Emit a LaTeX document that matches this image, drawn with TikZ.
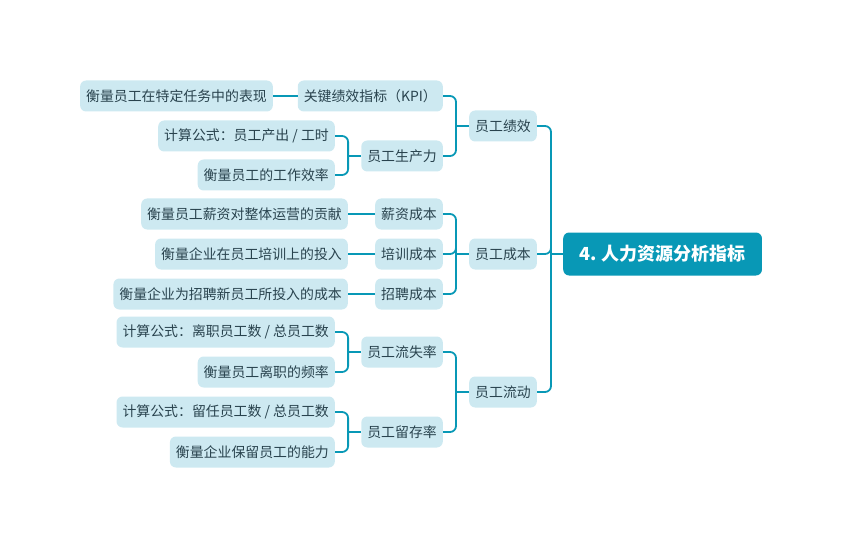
\documentclass[tikz,border=0pt]{standalone}
\usepackage{fontspec}
\setmainfont{Noto Sans CJK SC}
\usetikzlibrary{positioning}
\definecolor{mainteal}{HTML}{0898B6}
\definecolor{paleblue}{HTML}{CDE9F1}
\definecolor{inkgray}{HTML}{29434E}

\begin{document}
\begin{tikzpicture}[x=1pt, y=-1pt,
        topic/.style={rectangle, rounded corners=6pt, fill=mainteal, text=white, font=\fontsize{18}{21}\selectfont\bfseries, minimum height=43pt, inner xsep=16pt, anchor=west},
        sub/.style={rectangle, rounded corners=6pt, fill=paleblue, text=inkgray, font=\fontsize{13.9}{16}\selectfont, minimum height=31pt, inner xsep=6pt, anchor=east},
        link/.style={draw=mainteal, line width=1.8pt, rounded corners=6pt}
    ]
        \useasboundingbox (0,0) rectangle (843,548);

        % Root
        \node[topic] (root) at (563,254) {4. 人力资源分析指标};

        % Level 1
        \node[sub] (perf) at (537,126) {员工绩效};
        \node[sub] (cost) at (537,254) {员工成本};
        \node[sub] (flow) at (537,392) {员工流动};

        % Level 2
        \node[sub] (kpi) at (443,96) {关键绩效指标（KPI）};
        \node[sub] (prod) at (443,156) {员工生产力};
        \node[sub] (salary) at (443,214) {薪资成本};
        \node[sub] (train) at (443,254) {培训成本};
        \node[sub] (hire) at (443,294) {招聘成本};
        \node[sub] (churn) at (443,352) {员工流失率};
        \node[sub] (retain) at (443,432) {员工留存率};

        % Level 3
        \node[sub] (kpiD) at (273,96) {衡量员工在特定任务中的表现};
        \node[sub] (prodF) at (335,136) {计算公式：员工产出 / 工时};
        \node[sub] (prodD) at (335,175) {衡量员工的工作效率};
        \node[sub] (salaryD) at (348,214) {衡量员工薪资对整体运营的贡献};
        \node[sub] (trainD) at (348,254) {衡量企业在员工培训上的投入};
        \node[sub] (hireD) at (348,294) {衡量企业为招聘新员工所投入的成本};
        \node[sub] (churnF) at (335,332) {计算公式：离职员工数 / 总员工数};
        \node[sub] (churnD) at (335,372) {衡量员工离职的频率};
        \node[sub] (retainF) at (335,412) {计算公式：留任员工数 / 总员工数};
        \node[sub] (retainD) at (335,452) {衡量企业保留员工的能力};

        % Root to level 1
        \draw[link] (root.west) -- ++(-12,0) coordinate (j0);
        \draw[link] (j0) |- (perf.east);
        \draw[link] (j0) |- (cost.east);
        \draw[link] (j0) |- (flow.east);

        % Level 1 to level 2
        \draw[link] (perf.west) -- ++(-13,0) coordinate (j1);
        \draw[link] (j1) |- (kpi.east);
        \draw[link] (j1) |- (prod.east);
        \draw[link] (cost.west) -- ++(-13,0) coordinate (j2);
        \draw[link] (j2) |- (salary.east);
        \draw[link] (j2) |- (train.east);
        \draw[link] (j2) |- (hire.east);
        \draw[link] (flow.west) -- ++(-13,0) coordinate (j3);
        \draw[link] (j3) |- (churn.east);
        \draw[link] (j3) |- (retain.east);

        % Level 2 to level 3
        \draw[link] (kpi.west) -- (kpiD.east);
        \draw[link] (prod.west) -- ++(-13,0) coordinate (j4);
        \draw[link] (j4) |- (prodF.east);
        \draw[link] (j4) |- (prodD.east);
        \draw[link] (salary.west) -- (salaryD.east);
        \draw[link] (train.west) -- (trainD.east);
        \draw[link] (hire.west) -- (hireD.east);
        \draw[link] (churn.west) -- ++(-13,0) coordinate (j5);
        \draw[link] (j5) |- (churnF.east);
        \draw[link] (j5) |- (churnD.east);
        \draw[link] (retain.west) -- ++(-13,0) coordinate (j6);
        \draw[link] (j6) |- (retainF.east);
        \draw[link] (j6) |- (retainD.east);
    \end{tikzpicture}
\end{document}
